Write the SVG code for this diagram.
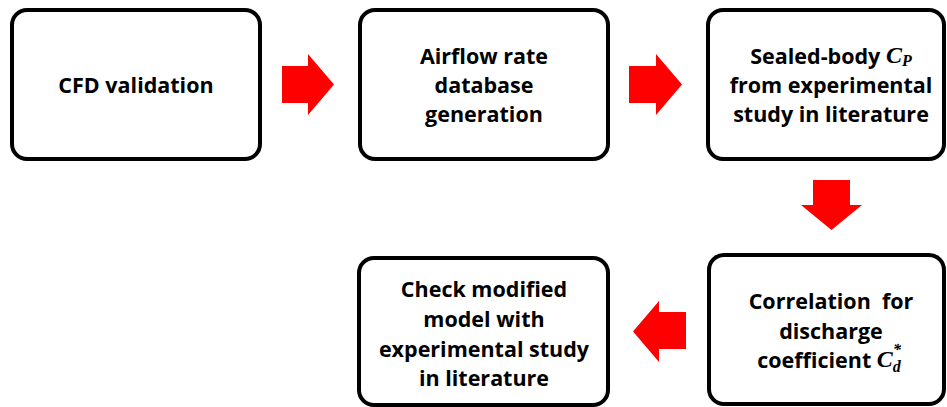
<svg xmlns="http://www.w3.org/2000/svg" width="947" height="407" viewBox="0 0 947 407">
<style>
.box{fill:#fff;stroke:#000;stroke-width:4}
.t{font-family:"Open Sans","Liberation Sans",sans-serif;font-weight:bold;font-size:21.5px;fill:#000;text-anchor:middle;dominant-baseline:central}
.m{font-family:"Liberation Serif",serif;font-style:italic;font-weight:bold}
.arr{fill:#ff0000}
</style>
<rect width="947" height="407" fill="#fff"/>
<g id="n1"><rect class="box" x="12" y="10" width="248" height="149" rx="15"/><text class="t" x="136" y="84">CFD validation</text></g>
<g id="n2"><rect class="box" x="360" y="10" width="248" height="149" rx="15"/>
<text class="t" x="484" y="55">Airflow rate</text><text class="t" x="484" y="84">database</text><text class="t" x="484" y="113">generation</text></g>
<g id="n3"><rect class="box" x="708" y="10" width="236" height="149" rx="15"/>
<text class="t" x="831" y="55">Sealed-body <tspan class="m" font-size="24">C</tspan><tspan class="m" font-size="16" dy="5">P</tspan></text><text class="t" x="831" y="84">from experimental</text><text class="t" x="831" y="113">study in literature</text></g>
<g id="n4"><rect class="box" x="709" y="255" width="235" height="149" rx="15"/>
<text class="t" x="831" y="300" xml:space="preserve">Correlation  for</text><text class="t" x="831" y="330">discharge</text><text class="t" x="829" y="359">coefficient <tspan class="m" font-size="24">C</tspan><tspan class="m" font-size="16" dy="7">d</tspan></text>
<text class="m" x="893" y="355" font-size="16">*</text></g>
<g id="n5"><rect class="box" x="359" y="258" width="249" height="147" rx="15"/>
<text class="t" x="484" y="288">Check modified</text><text class="t" x="484" y="318">model with</text><text class="t" x="484" y="348">experimental study</text><text class="t" x="484" y="377">in literature</text></g>
<g id="connectors">
<polygon class="arr" points="282,66 308,66 308,54 334,84.5 308,115 308,103 282,103"/>
<polygon class="arr" points="629,66 656,66 656,54 682,84.5 656,115 656,103 629,103"/>
<polygon class="arr" points="813,180 850,180 850,205 862,205 831.5,230 801,205 813,205"/>
<polygon class="arr" points="686,312 659,312 659,301 633,331.5 659,362 659,349 686,349"/>
</g>
</svg>
